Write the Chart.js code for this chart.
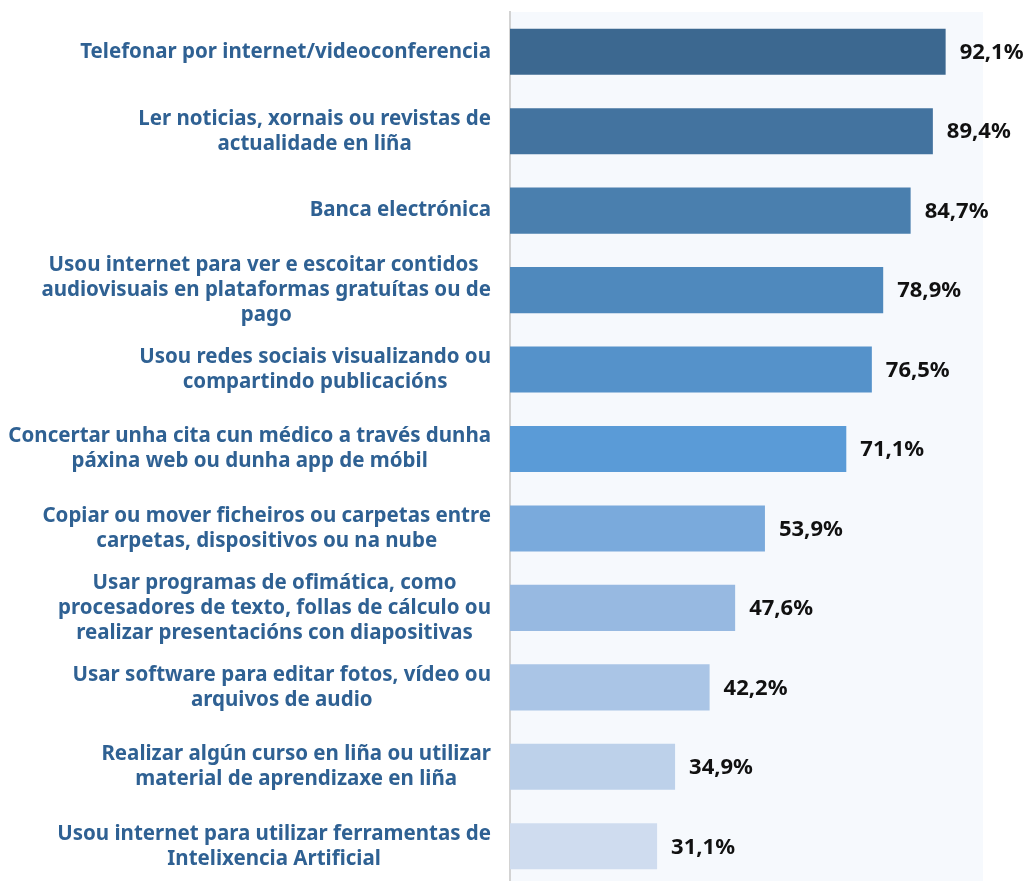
<!DOCTYPE html>
<html>
<head>
<meta charset="utf-8">
<script src="https://cdn.jsdelivr.net/npm/chart.js@4.4.1/dist/chart.umd.min.js"></script>
<style>
html,body{margin:0;padding:0;background:#fff;overflow:hidden;}
#wrap{width:1030px;height:890px;position:relative;}
</style>
</head>
<body>
<div id="wrap"><canvas id="c"></canvas></div>
<script>
const categories = [
  ["Telefonar por internet/videoconferencia"],
  ["Ler noticias, xornais ou revistas de", "actualidade en liña"],
  ["Banca electrónica"],
  ["Usou internet para ver e escoitar contidos ", "audiovisuais en plataformas gratuítas ou de", "pago"],
  ["Usou redes sociais visualizando ou", "compartindo publicacións"],
  ["Concertar unha cita cun médico a través dunha", "páxina web ou dunha app de móbil"],
  ["Copiar ou mover ficheiros ou carpetas entre", "carpetas, dispositivos ou na nube"],
  ["Usar programas de ofimática, como", "procesadores de texto, follas de cálculo ou", "realizar presentacións con diapositivas"],
  ["Usar software para editar fotos, vídeo ou", "arquivos de audio"],
  ["Realizar algún curso en liña ou utilizar", "material de aprendizaxe en liña"],
  ["Usou internet para utilizar ferramentas de", "Intelixencia Artificial"]
];
const values = [92.1, 89.4, 84.7, 78.9, 76.5, 71.1, 53.9, 47.6, 42.2, 34.9, 31.1];
const barColors = ["#3c6890", "#43739f", "#4a7fae", "#4f89bd", "#5592ca", "#5a9bd7", "#7aaadc", "#97b9e1", "#aac5e6", "#bdd1ea", "#cfdcef"];

const labelFont = "bold 20.5px 'Noto Sans'";
const valueFont = "bold 22px 'Noto Sans'";

const bgPlugin = {
  id: 'bg',
  beforeDraw(chart) {
    const {ctx, chartArea: a} = chart;
    ctx.save();
    ctx.fillStyle = '#f6f9fd';
    ctx.fillRect(a.left, a.top, a.right - a.left, a.bottom - a.top);
    ctx.restore();
  }
};

const labelPlugin = {
  id: 'catlabels',
  afterDraw(chart) {
    const ctx = chart.ctx;
    const y = chart.scales.y;
    ctx.save();
    ctx.font = labelFont;
    ctx.fillStyle = '#2f6193';
    ctx.textAlign = 'center';
    ctx.textBaseline = 'middle';
    const lh = 25;
    const rightEdge = chart.chartArea.left - 19;
    categories.forEach((lines, i) => {
      const cy = y.getPixelForTick(i);
      const maxW = Math.max(...lines.map(l => ctx.measureText(l).width));
      const cx = rightEdge - maxW / 2;
      const startY = cy - (lines.length - 1) * lh / 2;
      lines.forEach((l, j) => ctx.fillText(l, cx, startY + j * lh));
    });
    ctx.font = valueFont;
    ctx.fillStyle = '#111111';
    ctx.textAlign = 'left';
    const meta = chart.getDatasetMeta(0);
    meta.data.forEach((bar, i) => {
      ctx.fillText(values[i].toFixed(1).replace('.', ',') + '%', bar.x + 14, bar.y + 1);
    });
    ctx.restore();
  }
};

new Chart(document.getElementById('c'), {
  type: 'bar',
  data: {
    labels: categories.map(l => l.join(' ')),
    datasets: [{
      data: values,
      backgroundColor: barColors,
      borderWidth: 0,
      categoryPercentage: 1,
      barPercentage: 0.58
    }]
  },
  options: {
    indexAxis: 'y',
    responsive: true,
    maintainAspectRatio: false,
    animation: false,
    layout: { padding: { top: 12, bottom: 4, right: 47, left: 0 } },
    plugins: { legend: { display: false }, tooltip: { enabled: false } },
    scales: {
      x: { display: false, min: 0, max: 100 },
      y: {
        grid: { display: false, drawTicks: false },
        border: { display: true, color: '#d3d3d3', width: 2 },
        ticks: { display: false },
        afterFit(scale) { scale.width = 510; }
      }
    }
  },
  plugins: [bgPlugin, labelPlugin]
});
</script>
</body>
</html>
